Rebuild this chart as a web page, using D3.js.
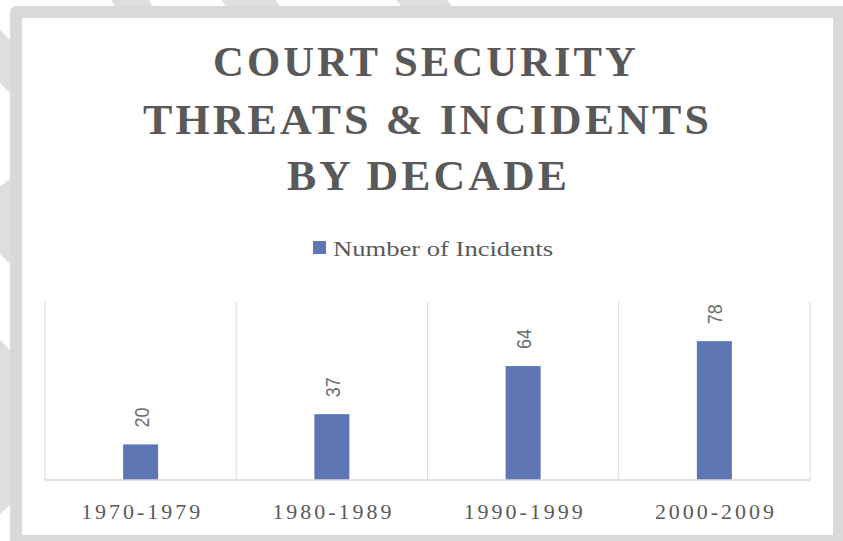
<!DOCTYPE html>
<html>
<head>
<meta charset="utf-8">
<script src="https://cdn.jsdelivr.net/npm/d3@7/dist/d3.min.js"></script>
<style>
  html, body { margin: 0; padding: 0; background: #ffffff; }
  svg { display: block; }
</style>
</head>
<body>
<div id="chart"></div>
<script>
// Incidents per decade
const decades = ["1970-1979", "1980-1989", "1990-1999", "2000-2009"];
const incidents = [20, 37, 64, 78];
const seriesName = "Number of Incidents";
const titleLines = ["COURT SECURITY", "THREATS & INCIDENTS", "BY DECADE"];
const yDomain = [0, 100];

const W = 843, H = 541;
const grey = "#595959";
const barColor = "#5f76b5";

const svg = d3.select("#chart").append("svg")
  .attr("width", W).attr("height", H);

// Decorative diagonal stripes peeking out from behind the frame
const stripes = [
  [[110, -2], [148, -2], [160, 20], [122, 20]],
  [[220, -2], [274, -2], [290, 20], [236, 20]],
  [[395, -2], [446, -2], [462, 20], [411, 20]],
  [[-2, 28], [14, 44], [14, 97], [-2, 81]],
  [[-2, 188], [14, 176], [14, 268], [-2, 252]],
  [[-2, 338], [14, 354], [14, 501], [-2, 516]]
];
svg.append("g").selectAll("path").data(stripes).join("path")
  .attr("d", d => "M" + d.map(p => p.join(",")).join("L") + "Z")
  .attr("fill", "#dedede");

// Frame
svg.append("rect").attr("x", 10).attr("y", 6).attr("width", 840).attr("height", 545)
  .attr("rx", 6).attr("fill", "#d9d9d9");
svg.append("rect").attr("x", 22).attr("y", 18).attr("width", 811).attr("height", 517)
  .attr("fill", "#ffffff");

// Title
const titleSpec = [
  { x: 213, len: 426, y: 76 },
  { x: 143, len: 569, y: 134 },
  { x: 287, len: 283, y: 190 }
];
svg.append("g").selectAll("text").data(titleLines).join("text")
  .attr("x", (d, i) => titleSpec[i].x)
  .attr("y", (d, i) => titleSpec[i].y)
  .attr("textLength", (d, i) => titleSpec[i].len)
  .attr("lengthAdjust", "spacingAndGlyphs")
  .attr("letter-spacing", 3)
  .attr("font-family", "'Liberation Serif', 'DejaVu Serif', serif")
  .attr("font-weight", "bold")
  .attr("font-size", 42)
  .attr("fill", grey)
  .text(d => d);

// Legend
const legend = svg.append("g");
legend.append("rect").attr("x", 313).attr("y", 241).attr("width", 13).attr("height", 13)
  .attr("fill", barColor);
legend.append("text").attr("x", 333).attr("y", 256)
  .attr("textLength", 220).attr("lengthAdjust", "spacingAndGlyphs")
  .attr("font-family", "'Liberation Serif', serif")
  .attr("font-size", 21)
  .attr("fill", grey)
  .text(seriesName);

// Plot
const plot = { left: 45, right: 810, top: 302, bottom: 480 };
const x = d3.scaleBand().domain(decades).range([plot.left, plot.right]).paddingInner(0).paddingOuter(0);
const y = d3.scaleLinear().domain(yDomain).range([plot.bottom, plot.top]);
const barW = x.bandwidth() * 0.183;

// Category separators
const seps = decades.map(d => x(d)).concat([plot.right]);
svg.append("g").selectAll("line").data(seps).join("line")
  .attr("x1", d => d).attr("x2", d => d)
  .attr("y1", y(yDomain[1])).attr("y2", y(0))
  .attr("stroke", "#d9d9d9").attr("stroke-width", 1);

// Bars
svg.append("g").selectAll("rect").data(incidents).join("rect")
  .attr("x", (d, i) => x(decades[i]) + x.bandwidth() / 2 - barW / 2)
  .attr("y", d => y(d))
  .attr("width", barW)
  .attr("height", d => y(0) - y(d))
  .attr("fill", barColor);

// Baseline
svg.append("line")
  .attr("x1", plot.left).attr("x2", plot.right)
  .attr("y1", y(0)).attr("y2", y(0))
  .attr("stroke", "#d9d9d9").attr("stroke-width", 1.5);

// Value labels (rotated)
svg.append("g").selectAll("text").data(incidents).join("text")
  .attr("transform", (d, i) => {
    const cx = x(decades[i]) + x.bandwidth() / 2;
    return `translate(${cx + 0.5},${y(d) - 17}) rotate(-90)`;
  })
  .attr("dominant-baseline", "central")
  .attr("textLength", 20).attr("lengthAdjust", "spacingAndGlyphs")
  .attr("font-family", "'Liberation Sans', Arial, sans-serif")
  .attr("font-size", 21)
  .attr("fill", "#6d6d6d")
  .text(d => d);

// Category axis
const xAxis = svg.append("g")
  .attr("transform", `translate(0,${plot.bottom})`)
  .call(d3.axisBottom(x).tickSize(0).tickPadding(0));
xAxis.select(".domain").remove();
xAxis.selectAll("text")
  .attr("y", 39)
  .attr("dy", null)
  .attr("textLength", 119).attr("lengthAdjust", "spacing")
  .attr("font-family", "'Liberation Serif', serif")
  .attr("font-size", 22)
  .attr("fill", grey);
</script>
</body>
</html>
